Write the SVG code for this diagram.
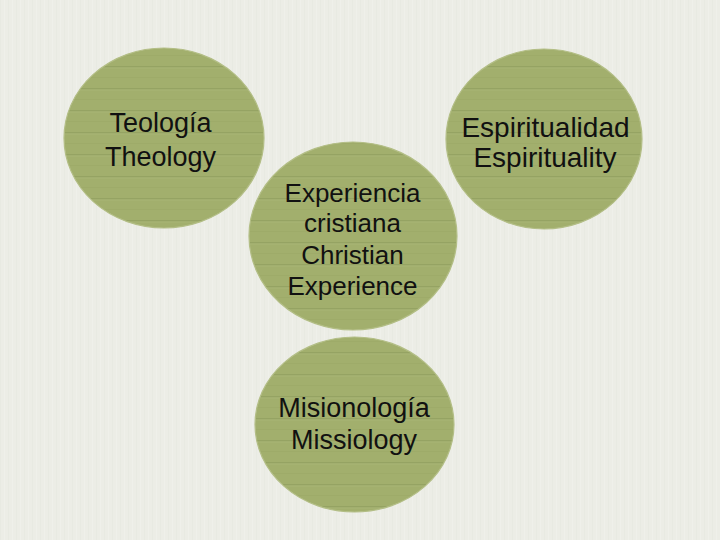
<svg xmlns="http://www.w3.org/2000/svg" width="720" height="540" viewBox="0 0 720 540">
  <defs>
    <pattern id="bg" patternUnits="userSpaceOnUse" width="8" height="540">
      <rect width="8" height="540" fill="#ecede6"/>
      <rect x="0" width="1" height="540" fill="#e8eae2"/>
      <rect x="4" width="1" height="540" fill="#eff0ea"/>
    </pattern>
    <pattern id="stripes" patternUnits="userSpaceOnUse" width="720" height="22">
      <rect width="720" height="22" fill="#a2af6d"/>
      <rect y="0" width="720" height="1.5" fill="#95a363"/>
      <rect y="1.5" width="720" height="1" fill="#a9b575"/>
      <rect y="11" width="720" height="1" fill="#9eab69"/>
    </pattern>
    <style>
      .node { fill: url(#stripes); stroke: #b3be86; stroke-width: 1.2; }
      .lbl { font-family: "Liberation Sans", Arial, sans-serif; fill: #111; text-anchor: middle; }
    </style>
  </defs>
  <rect width="720" height="540" fill="url(#bg)"/>
  <g id="connectors"></g>
  <g id="teologia">
    <ellipse class="node" cx="164" cy="138" rx="100" ry="90"/>
    <text class="lbl" font-size="27"><tspan x="160.5" y="132">Teología</tspan><tspan x="160.5" y="166">Theology</tspan></text>
  </g>
  <g id="espiritualidad">
    <ellipse class="node" cx="544" cy="139" rx="98" ry="90"/>
    <text class="lbl" font-size="28"><tspan x="545.5" y="137">Espiritualidad</tspan><tspan x="545" y="167">Espirituality</tspan></text>
  </g>
  <g id="experiencia">
    <ellipse class="node" cx="353" cy="236" rx="104" ry="94"/>
    <text class="lbl" font-size="26"><tspan x="352.5" y="202">Experiencia</tspan><tspan x="352.5" y="232">cristiana</tspan><tspan x="352.5" y="263.5">Christian</tspan><tspan x="352.5" y="295">Experience</tspan></text>
  </g>
  <g id="misionologia">
    <ellipse class="node" cx="354.5" cy="424.5" rx="99.5" ry="87.5"/>
    <text class="lbl" font-size="27"><tspan x="354" y="417">Misionología</tspan><tspan x="354" y="448.5">Missiology</tspan></text>
  </g>
</svg>
